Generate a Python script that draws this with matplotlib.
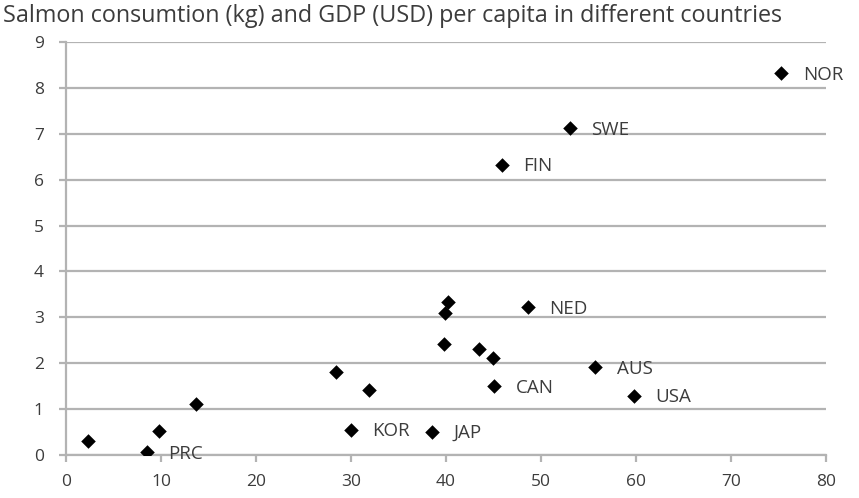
import matplotlib
matplotlib.use("Agg")
import matplotlib.pyplot as plt

# GDP per capita (thousand USD) and salmon consumption per capita (kg)
gdp = [2.3, 8.5, 9.8, 13.7, 28.4, 30.0, 31.9, 38.5, 39.8, 39.9, 40.2,
       43.5, 44.9, 45.1, 45.9, 48.6, 53.0, 55.7, 59.8, 75.3]
salmon = [0.31, 0.06, 0.52, 1.12, 1.81, 0.55, 1.42, 0.51, 2.42, 3.09, 3.33,
          2.31, 2.11, 1.50, 6.32, 3.22, 7.12, 1.91, 1.29, 8.32]
names = ["", "PRC", "", "", "", "KOR", "", "JAP", "", "", "",
         "", "", "CAN", "FIN", "NED", "SWE", "AUS", "USA", "NOR"]

x_ticks = [0, 10, 20, 30, 40, 50, 60, 70, 80]
y_ticks = [0, 1, 2, 3, 4, 5, 6, 7, 8, 9]

FONT = "Open Sans"
TEXT = "#3c3c3c"
GRID = "#b3b3b3"

fig = plt.figure(figsize=(8.59, 4.98), dpi=100)
ax = fig.add_axes([66 / 859, 43 / 498, 760 / 859, 413 / 498])

ax.scatter(gdp, salmon, marker="D", s=55, color="black", zorder=3,
           linewidths=0)
for x, y, n in zip(gdp, salmon, names):
    if n:
        ax.annotate(n, (x, y), xytext=(15.5, -1), textcoords="offset points",
                    ha="left", va="center", fontsize=13.5, color=TEXT,
                    family=FONT)

ax.set_xlim(0, 80)
ax.set_ylim(0, 9)
ax.set_xticks(x_ticks)
ax.set_yticks(y_ticks)
ax.set_xticklabels([str(v) for v in x_ticks])
ax.set_yticklabels([str(v) for v in y_ticks])
ax.yaxis.grid(True, color=GRID, linewidth=1.6)
ax.set_axisbelow(True)
for side in ("top", "right"):
    ax.spines[side].set_visible(False)
for side in ("left", "bottom"):
    ax.spines[side].set_color(GRID)
    ax.spines[side].set_linewidth(1.6)
ax.tick_params(axis="both", direction="out", length=5, width=1.6,
               color=GRID, labelcolor=TEXT, labelsize=12.5)
ax.tick_params(axis="y", pad=11)
ax.tick_params(axis="x", pad=9)
for lbl in ax.get_xticklabels() + ax.get_yticklabels():
    lbl.set_family(FONT)

fig.text(3 / 859, 1 - 16 / 498,
         "Salmon consumtion (kg) and GDP (USD) per capita in different countries",
         ha="left", va="center", fontsize=16.8, color=TEXT, family=FONT)

fig.savefig("out.png", dpi=100)
